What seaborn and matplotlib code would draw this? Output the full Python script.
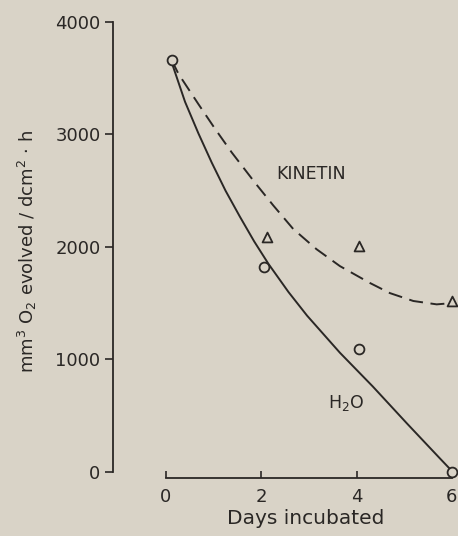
import matplotlib
matplotlib.use("Agg")
import matplotlib.pyplot as plt
import seaborn as sns
import pandas as pd

# valores
dias_h2o = [0.12, 2.06, 4.04, 6.0]
o2_h2o = [3660, 1825, 1090, 0]

dias_kin = [2.11, 4.05, 6.0]
o2_kin = [2086, 2011, 1523]

# curvas desenhadas a mao (pontos lidos ao longo da linha)
curva_h2o_x = [0.12, 0.40, 0.68, 0.96, 1.25, 1.55, 1.85, 2.15, 2.57, 2.96, 3.65, 4.34, 5.06, 5.75, 6.02]
curva_h2o_y = [3640, 3290, 3010, 2750, 2500, 2270, 2050, 1850, 1600, 1390, 1060, 760, 430, 120, 0]

curva_kin_x = [0.12, 0.26, 0.68, 1.03, 1.38, 1.87, 2.25, 2.67, 3.16, 3.65, 4.28, 4.70, 5.19, 5.68, 5.97]
curva_kin_y = [3660, 3540, 3270, 3050, 2840, 2570, 2370, 2160, 1980, 1830, 1680, 1590, 1520, 1490, 1500]

ticks_x = [0, 2, 4, 6]
ticks_y = [0, 1000, 2000, 3000, 4000]

papel = "#d9d3c7"
tinta = "#2a2725"

sns.set_style("ticks")
plt.rcParams["font.family"] = ["DejaVu Sans"]
plt.rcParams["mathtext.default"] = "regular"
plt.rcParams["text.color"] = tinta
plt.rcParams["axes.labelcolor"] = tinta
plt.rcParams["xtick.color"] = tinta
plt.rcParams["ytick.color"] = tinta

fig = plt.figure(figsize=(4.58, 5.36), dpi=100, facecolor=papel)
ax = fig.add_axes([108 / 458, (536 - 484) / 536, (457 - 108) / 458, (484 - 15) / 536])
ax.set_facecolor(papel)

df_h2o = pd.DataFrame({"x": curva_h2o_x, "y": curva_h2o_y})
df_kin = pd.DataFrame({"x": curva_kin_x, "y": curva_kin_y})

sns.lineplot(data=df_h2o, x="x", y="y", sort=False, color=tinta, linewidth=1.4, ax=ax)
sns.lineplot(data=df_kin, x="x", y="y", sort=False, color=tinta, linewidth=1.4,
             linestyle=(0, (7.2, 3.9)), ax=ax)

sns.scatterplot(x=dias_h2o, y=o2_h2o, marker="o", s=50, facecolor=papel,
                edgecolor=tinta, linewidth=1.3, zorder=5, ax=ax)
sns.scatterplot(x=dias_kin, y=o2_kin, marker="^", s=50, facecolor=papel,
                edgecolor=tinta, linewidth=1.3, zorder=5, ax=ax)

ax.set_xlim(-1.217, 6.107)
ax.set_ylim(-106.7, 4062)

ax.spines["top"].set_visible(False)
ax.spines["right"].set_visible(False)
ax.spines["left"].set_position(("data", -1.11))
ax.spines["left"].set_bounds(0, 4000)
ax.spines["bottom"].set_position(("data", -53))
ax.spines["bottom"].set_bounds(0, 6)
for s in ["left", "bottom"]:
    ax.spines[s].set_color(tinta)
    ax.spines[s].set_linewidth(1.3)

ax.set_xticks(ticks_x)
ax.set_yticks(ticks_y)
ax.tick_params(axis="x", direction="in", length=5, width=1.2, pad=7, labelsize=13)
ax.tick_params(axis="y", direction="out", length=6, width=1.2, pad=3, labelsize=13)

ax.set_xlabel("")
ax.set_ylabel("")
fig.text(306 / 458, 1 - 518 / 536, "Days incubated", ha="center", va="center", fontsize=14.5)
fig.text(27 / 458, 1 - 251 / 536, "mm$^3$ O$_2$ evolved / dcm$^2$ · h", rotation=90,
         ha="center", va="center", fontsize=13)

ax.text(2.32, 2650, "KINETIN", fontsize=12.5, va="center", ha="left")
ax.text(3.4, 610, "H$_2$O", fontsize=12.5, va="center", ha="left")

plt.savefig("out.png", dpi=100, facecolor=papel)
plt.close()
